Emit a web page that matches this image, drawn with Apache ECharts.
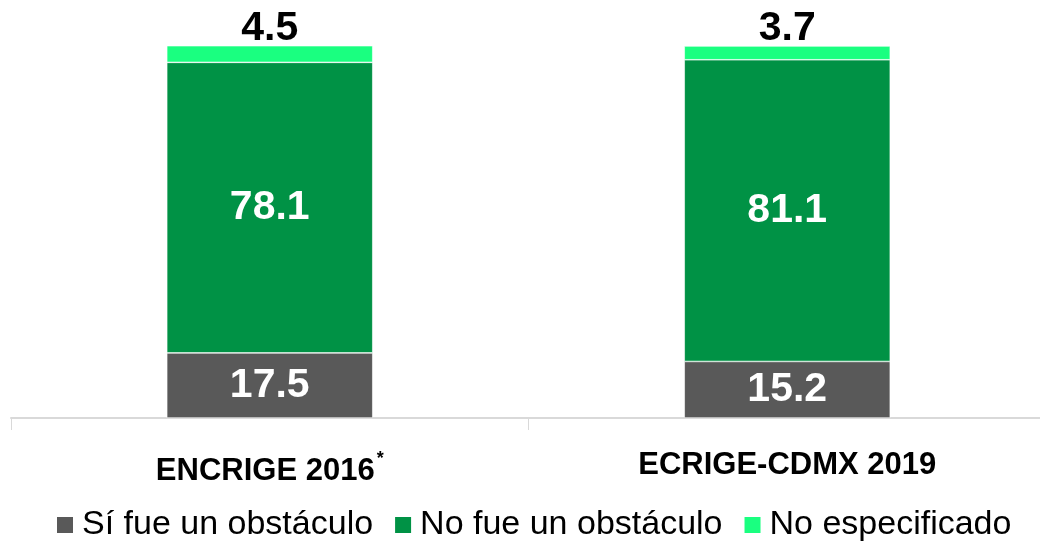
<!DOCTYPE html>
<html>
<head>
<meta charset="utf-8">
<script src="https://cdn.jsdelivr.net/npm/echarts@6/dist/echarts.min.js"></script>
<style>
  html, body { margin: 0; padding: 0; background: #fff; }
  #chart { width: 1040px; height: 546px; }
</style>
</head>
<body>
<div id="chart"></div>
<script>
const categories = ["ENCRIGE 2016", "ECRIGE-CDMX 2019"];
const siObstaculo = [17.5, 15.2];
const noObstaculo = [78.1, 81.1];
const noEspecificado = [4.5, 3.7];

const chart = echarts.init(document.getElementById("chart"));
const font = "Liberation Sans, Arial, sans-serif";

const inner = { show: true, position: "inside", color: "#fff", fontSize: 41, fontWeight: "bold", fontFamily: font };

chart.setOption({
  animation: false,
  textStyle: { fontFamily: font },
  grid: { left: 11, right: -6, top: 46, bottom: 128, outerBoundsMode: "none" },
  legend: {
    top: 503,
    left: 50,
    itemWidth: 18,
    itemHeight: 18,
    itemGap: 20,
    icon: "rect",
    textStyle: { fontSize: 34, color: "#000", fontFamily: font, padding: [0, 0, 0, 3] },
  },
  xAxis: {
    type: "category",
    data: categories,
    axisLine: { lineStyle: { color: "#d9d9d9", width: 2 } },
    axisTick: { show: true, length: 12, lineStyle: { color: "#d9d9d9" } },
    axisLabel: {
      margin: 32,
      formatter: (v, i) => (i === 0 ? "{b|" + v + "}{s|*}" : "{b|" + v + "}"),
      rich: {
        b: { fontSize: 31, fontWeight: "bold", color: "#000", fontFamily: font },
        s: { fontSize: 18, fontWeight: "bold", color: "#000", fontFamily: font, verticalAlign: "top", padding: [0, 0, 24, 2] },
      },
    },
  },
  yAxis: { type: "value", min: 0, max: 100, show: false, splitLine: { show: false } },
  series: [
    {
      name: "Sí fue un obstáculo", type: "bar", stack: "t", barWidth: 206, data: siObstaculo,
      itemStyle: { color: "#595959", borderColor: "#fff", borderWidth: 0.6 }, label: inner,
    },
    {
      name: "No fue un obstáculo", type: "bar", stack: "t", data: noObstaculo,
      itemStyle: { color: "#009245", borderColor: "#fff", borderWidth: 0.6 }, label: inner,
    },
    {
      name: "No especificado", type: "bar", stack: "t", data: noEspecificado,
      itemStyle: { color: "#1aff80", borderColor: "#fff", borderWidth: 0.6 },
      label: { show: true, position: "top", distance: -3, color: "#000", fontSize: 41, fontWeight: "bold", fontFamily: font },
    },
  ],
});
</script>
</body>
</html>
